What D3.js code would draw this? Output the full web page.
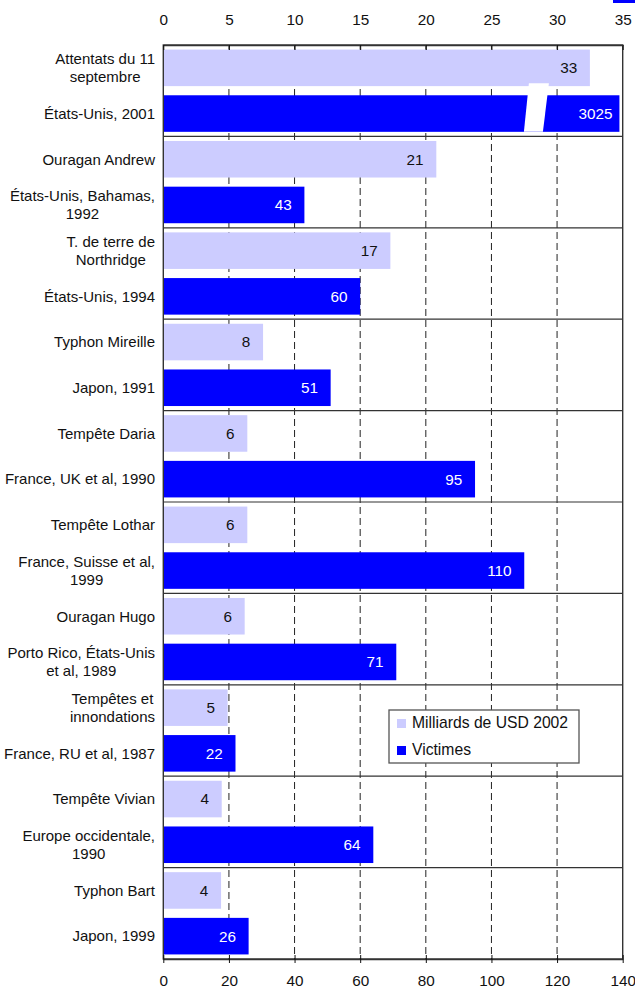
<!DOCTYPE html>
<html><head><meta charset="utf-8">
<script src="https://cdn.jsdelivr.net/npm/d3@7"></script>
<style>
html,body{margin:0;padding:0;background:#fff;}
svg{display:block;font-family:"Liberation Sans",Arial,sans-serif;}
</style></head>
<body><svg id="c" width="635" height="990"></svg>
<script>
// ---- data ----
const eventLabels = [
  ["Attentats du 11","septembre"],
  ["Ouragan Andrew"],
  ["T. de terre de","Northridge"],
  ["Typhon Mireille"],
  ["Tempête Daria"],
  ["Tempête Lothar"],
  ["Ouragan Hugo"],
  ["Tempêtes et","innondations"],
  ["Tempête Vivian"],
  ["Typhon Bart"]
];
const placeLabels = [
  ["États-Unis, 2001"],
  ["États-Unis, Bahamas,","1992"],
  ["États-Unis, 1994"],
  ["Japon, 1991"],
  ["France, UK et al, 1990"],
  ["France, Suisse et al,","1999"],
  ["Porto Rico, États-Unis","et al, 1989"],
  ["France, RU et al, 1987"],
  ["Europe occidentale,","1990"],
  ["Japon, 1999"]
];
const usdBillions = [32.5, 20.8, 17.3, 7.6, 6.4, 6.4, 6.2, 4.9, 4.45, 4.4];
const victims = [3025, 43, 60, 51, 95, 110, 71, 22, 64, 26];
const usdTicks = [0,5,10,15,20,25,30,35];
const victimTicks = [0,20,40,60,80,100,120,140];
const seriesNames = ["Milliards de USD 2002","Victimes"];

// ---- layout ----
const L = 163.3, R = 622.7, T = 45, B = 959;
const light = "#CCCCFF", dark = "#0000FF", ink = "#333";
const svg = d3.select("#c");

const xU = d3.scaleLinear().domain([0,35]).range([L,R]);
const xV = d3.scaleLinear().domain([0,140]).range([L,R]);
const rows = d3.range(eventLabels.length*2);
const y = d3.scaleBand().domain(rows).range([T,B]).paddingInner(0.2).paddingOuter(0.1);
const bw = y.bandwidth();
const gap = y.step() - bw;

// gridlines
svg.append("g").selectAll("line").data(victimTicks.filter(v=>v>0 && v<140)).join("line")
  .attr("x1",d=>xV(d)).attr("x2",d=>xV(d)).attr("y1",T).attr("y2",B)
  .attr("stroke","#222").attr("stroke-width",1).attr("stroke-dasharray","7,4");

// bars
const gb = svg.append("g");
gb.selectAll("rect.u").data(usdBillions).join("rect").attr("class","u")
  .attr("x",L).attr("y",(d,i)=>y(2*i)).attr("height",bw)
  .attr("width",d=>xU(d)-L).attr("fill",light);
const vMax = 139;
gb.selectAll("rect.v").data(victims).join("rect").attr("class","v")
  .attr("x",L).attr("y",(d,i)=>y(2*i+1)).attr("height",bw)
  .attr("width",d=>xV(Math.min(d,vMax))-L).attr("fill",dark);

// axis break on oversized bar
victims.forEach((d,i)=>{
  if(d>140){
    const cx = xV(113.7), yt = y(2*i+1)-12, yb = y(2*i+1)+bw;
    svg.append("polygon")
      .attr("points",[[cx-7.5,yt],[cx+12.5,yt],[cx+6.5,yb],[cx-12.5,yb]].map(p=>p.join(",")).join(" "))
      .attr("fill","#fff");
  }
});

// separators
svg.append("g").selectAll("line").data(d3.range(1,eventLabels.length)).join("line")
  .attr("x1",L).attr("x2",R)
  .attr("y1",k=>y(2*k)-gap/2).attr("y2",k=>y(2*k)-gap/2)
  .attr("stroke",ink).attr("stroke-width",1.2);

// frame
svg.append("rect").attr("x",L).attr("y",T).attr("width",R-L).attr("height",B-T)
  .attr("fill","none").attr("stroke",ink).attr("stroke-width",1.4);

// top axis
const ta = svg.append("g").attr("transform",`translate(0,${T})`)
  .call(d3.axisTop(xU).tickValues(usdTicks).tickSizeInner(-5).tickSizeOuter(0).tickPadding(20));
ta.select(".domain").attr("stroke",ink).attr("stroke-width",1.4);
ta.selectAll(".tick line").attr("stroke","#111");
ta.selectAll("text").attr("font-size",15.3).attr("fill","#111").attr("font-family","Liberation Sans, Arial, sans-serif");

// bottom axis
const ba = svg.append("g").attr("transform",`translate(0,${B})`)
  .call(d3.axisBottom(xV).tickValues(victimTicks).tickSizeInner(4).tickSizeOuter(0).tickPadding(12));
ba.select(".domain").attr("stroke",ink).attr("stroke-width",1.4);
ba.selectAll(".tick line").attr("y1",-4).attr("stroke","#111");
ba.selectAll("text").attr("font-size",15.3).attr("fill","#111").attr("font-family","Liberation Sans, Arial, sans-serif");

// category labels
const allLabels = [];
eventLabels.forEach((l,i)=>{ allLabels.push({lines:l,row:2*i}); allLabels.push({lines:placeLabels[i],row:2*i+1}); });
const lg = svg.append("g").attr("font-size",15).attr("fill","#111");
allLabels.forEach(d=>{
  const cy = y(d.row)+bw/2;
  const lh = 18;
  const tmp = d.lines.map((s,j)=>lg.append("text").text(s)
      .attr("y",cy+(j-(d.lines.length-1)/2)*lh).attr("dy","0.35em"));
  const maxW = d3.max(tmp,t=>t.node().getComputedTextLength());
  const right = 155;
  tmp.forEach(t=>t.attr("x",right-maxW/2).attr("text-anchor","middle"));
});

// value labels
const vl = svg.append("g").attr("font-size",15.3);
vl.selectAll("text.u").data(usdBillions).join("text").attr("class","u")
  .attr("x",d=>xU(d)-12.7).attr("y",(d,i)=>y(2*i)+bw/2).attr("dy","0.35em")
  .attr("text-anchor","end").attr("fill","#111").text(d=>Math.round(d));
vl.selectAll("text.v").data(victims).join("text").attr("class","v")
  .attr("x",d=>d>140 ? xV(vMax)-7 : xV(d)-12.7).attr("y",(d,i)=>y(2*i+1)+bw/2).attr("dy","0.35em")
  .attr("text-anchor","end").attr("fill","#fff").text(d=>d);

// legend
const leg = svg.append("g");
leg.append("rect").attr("x",389).attr("y",710).attr("width",190).attr("height",53)
  .attr("fill","#fff").attr("stroke","#555").attr("stroke-width",1.3);
seriesNames.forEach((n,i)=>{
  leg.append("rect").attr("x",397).attr("y",719+i*27).attr("width",9).attr("height",9)
    .attr("fill",i===0?light:dark);
  leg.append("text").attr("x",412).attr("y",728+i*27).attr("font-size",15.7).attr("fill","#111").text(n);
});

// stray legend swatch at top-right corner
svg.append("rect").attr("x",613).attr("y",0).attr("width",22).attr("height",3).attr("fill",dark);
</script></body></html>
